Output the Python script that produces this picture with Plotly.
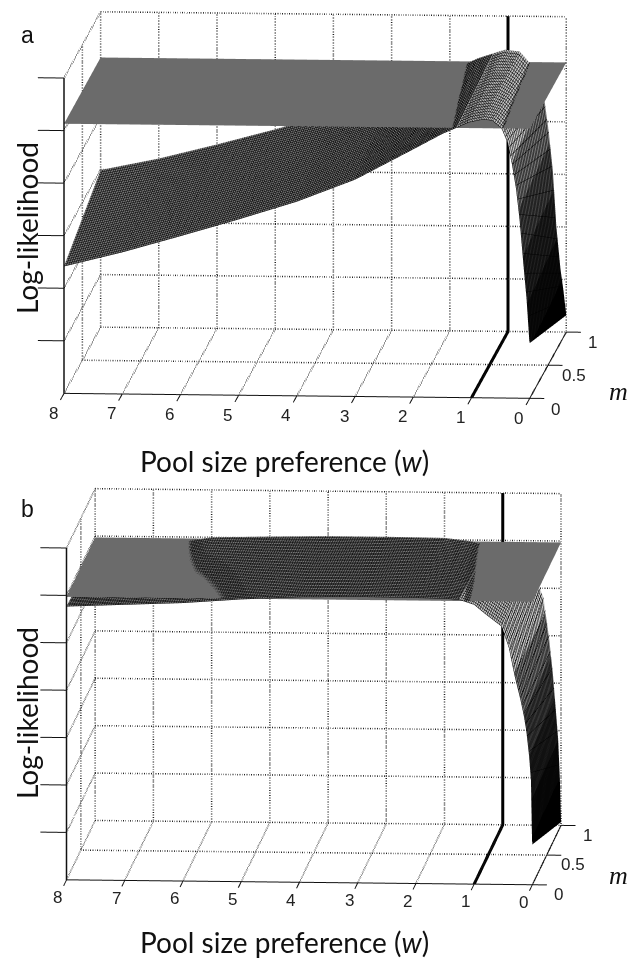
import plotly.graph_objects as go

# ---------- data ----------
W_TICKS = [8, 7, 6, 5, 4, 3, 2, 1, 0]
M_TICKS = [0, 0.5, 1]
M_EDGES = [0, 1]

W_A = [8, 7, 6, 5, 4, 3, 2, 1.5, 1.25, 1.05, .8, .64, .48, .38, .3, .23, .17, .1, .05, 0]
A_M0 = [2.42, 2.70, 3.02, 3.35, 3.70, 4.13, 4.72, 5.02, 5.14, 5.24, 5.30, 5.28, 5.13, 4.87, 4.45, 3.98, 3.40, 2.5, 1.9, 1.05]
A_M1 = [2.99, 3.22, 3.5, 3.8, 4.12, 4.5, 4.95, 5.2, 5.29, 5.36, 5.33, 5.13, 4.9, 4.45, 3.8, 3.05, 2.0, 1.2, .8, .32]
A_PLANE = 5.13
A_ZTOP = 6
A_SPLIT_W = 1.25

W_B = [8, 7, 6, 5, 4, 3, 2, 1.5, 1.25, 1, .8, .53, .4, .3, .2, .14, .1, .05, .02, 0]
B_M0 = [5.77, 5.82, 5.87, 5.96, 6.02, 6.04, 6.03, 6.02, 6.0, 5.9, 5.7, 5.45, 5.0, 4.4, 3.9, 3.55, 3.25, 2.7, 2.2, .85]
B_M1 = [5.7, 5.82, 6.0, 6.03, 6.05, 6.05, 6.04, 5.97, 5.88, 5.82, 5.75, 5.5, 5.1, 4.8, 3.9, 3.2, 2.6, 1.84, 1.0, .07]
B_PLANE = 5.97
B_ZTOP = 7
B_SPLIT_W = 1.25

POOL_W = 1
INK = "#111111"

RIBBON_SCALE = [
    [0, "#000000"], [.17, "#000000"], [.17, "#0c0c0c"], [.3, "#0c0c0c"], [.3, "#222222"], [.45, "#222222"],
    [.45, "#444444"], [.6, "#444444"], [.6, "#777777"], [.75, "#777777"], [.75, "#c4c4c4"], [1, "#c4c4c4"],
]


def panel(fig, scene, W, m0, m1, plane, ztop, split_w):
    split = W.index(split_w) + 1
    contour = lambda size: dict(show=True, start=0, end=9, size=size, color="#000000", width=1)
    mesh = lambda xs, ys: dict(x=contour(xs), y=dict(show=True, start=0, end=1, size=ys, color="#000000", width=1),
                               z=dict(show=False))
    flat = dict(ambient=1, diffuse=0, specular=0, roughness=1, fresnel=0)
    zl = [m0[:split], m1[:split]]
    fig.add_trace(go.Surface(x=W[:split], y=M_EDGES, z=zl, surfacecolor=[[0] * split] * 2,
                             colorscale=[[0, "#777777"], [1, "#777777"]], showscale=False, lighting=flat,
                             contours=mesh(.04, .025), scene=scene, hoverinfo="skip"))
    zr = [m0[split - 1:], m1[split - 1:]]
    fig.add_trace(go.Surface(x=W[split - 1:], y=M_EDGES, z=zr, surfacecolor=zr, cmin=0, cmax=6,
                             colorscale=RIBBON_SCALE, showscale=False, lighting=flat,
                             contours=mesh(.03, .04), scene=scene, hoverinfo="skip"))
    fig.add_trace(go.Surface(x=[W_TICKS[0], W_TICKS[-1]], y=M_EDGES, z=[[plane, plane], [plane, plane]],
                             colorscale=[[0, "#6b6b6b"], [1, "#6b6b6b"]], showscale=False, lighting=flat,
                             scene=scene, hoverinfo="skip"))

    def line(x, y, z, width=2, dash="solid", color=INK):
        fig.add_trace(go.Scatter3d(x=x, y=y, z=z, mode="lines", line=dict(color=color, width=width, dash=dash),
                                   scene=scene, showlegend=False, hoverinfo="skip"))
    dot = dict(width=3, dash="dot", color="#222222")
    for w in W_TICKS:
        line([w, w], [1, 1], [0, ztop], **dot)
        line([w, w], [0, 1], [0, 0], **dot)
    for k in range(ztop + 1):
        line([8, 0], [1, 1], [k, k], **dot)
        line([8, 8], [0, 1], [k, k], **dot)
    line([8, 8], [.5, .5], [0, ztop], **dot)
    line([8, 0], [.5, .5], [0, 0], **dot)
    line([8, -.25], [0, 0], [0, 0], width=2)
    line([0, 0], [-.1, 1], [0, 0], width=2)
    line([8, 8], [0, 0], [0, ztop], width=3)
    for w in W_TICKS:
        line([w, w], [0, -.1], [0, 0], width=2)
    for m in M_TICKS[1:]:
        line([0, -.25], [m, m], [0, 0], width=2)
    for k in range(1, ztop + 1):
        line([8, 8.45], [0, 0], [k, k], width=2)
    line([POOL_W, POOL_W, POOL_W], [0, 1, 1], [0, 0, ztop], width=6, color="#000000")


fig = go.Figure()
panel(fig, "scene", W_A, A_M0, A_M1, A_PLANE, A_ZTOP, A_SPLIT_W)
panel(fig, "scene2", W_B, B_M0, B_M1, B_PLANE, B_ZTOP, B_SPLIT_W)

K = 2.5
S = 1.95


def scene_layout(domain_y, eye, aspect, zr, ann, center):
    ax = dict(visible=False, showbackground=False, showgrid=False, zeroline=False, showspikes=False)
    return dict(domain=dict(x=[0, 1], y=domain_y),
                xaxis=dict(ax, range=[8.6, -1.4]), yaxis=dict(ax, range=[-.45, 1.1]),
                zaxis=dict(ax, range=zr),
                aspectmode="manual", aspectratio=dict(x=aspect[0] * S, y=aspect[1] * S, z=aspect[2] * S),
                camera=dict(eye=dict(x=eye[0] * K + center[0], y=eye[1] * K + center[1], z=eye[2] * K + center[2]),
                            up=dict(x=0, y=0, z=1), center=dict(x=center[0], y=center[1], z=center[2]),
                            projection=dict(type="orthographic")),
                annotations=ann)


def labels():
    tf = dict(family="Liberation Sans", size=17, color="#222222")
    out = []
    for w in W_TICKS:
        out.append(dict(x=w, y=-.3, z=0, text=str(w), showarrow=False, font=tf))
    for m in M_TICKS:
        out.append(dict(x=-.45, y=m, z=-.2, text=str(m), showarrow=False, font=tf))
    return out


txt = dict(xref="paper", yref="paper", showarrow=False, xanchor="center", yanchor="middle")
big = dict(family="Lato", size=28, color="#111111")
serif = dict(family="Liberation Serif", size=26, color="#111111")
letter = dict(family="Liberation Sans", size=23, color="#111111")
fig.update_layout(
    width=634, height=958, margin=dict(l=0, r=0, t=0, b=0), paper_bgcolor="white", showlegend=False,
    scene=scene_layout([.5, 1], (.0756, -.9875, .1387), (1.25, 1.59, .75), [-.3, 6.3], labels(),
                       (-.063, 0, -.096)),
    scene2=scene_layout([0, .5], (.0707, -.9866, .1485), (1.25, 1.33, .78), [-.3, 7.3], labels(),
                        (-.063, 0, -.09)),
    annotations=[
        dict(txt, x=27 / 634, y=1 - 35 / 958, text="a", font=letter),
        dict(txt, x=27 / 634, y=1 - 509 / 958, text="b", font=letter),
        dict(txt, x=27 / 634, y=1 - 228 / 958, text="Log-likelihood", textangle=-90, font=big),
        dict(txt, x=27 / 634, y=1 - 713 / 958, text="Log-likelihood", textangle=-90, font=big),
        dict(txt, x=284 / 634, y=1 - 461 / 958, text="Pool size preference (<i>w</i>)", font=big),
        dict(txt, x=284 / 634, y=1 - 942 / 958, text="Pool size preference (<i>w</i>)", font=big),
        dict(txt, x=618 / 634, y=1 - 391 / 958, text="<i>m</i>", font=serif),
        dict(txt, x=618 / 634, y=1 - 875 / 958, text="<i>m</i>", font=serif),
    ],
)
fig.write_html("out.html", post_script="document.body.style.margin=0;", config=dict(displayModeBar=False))
